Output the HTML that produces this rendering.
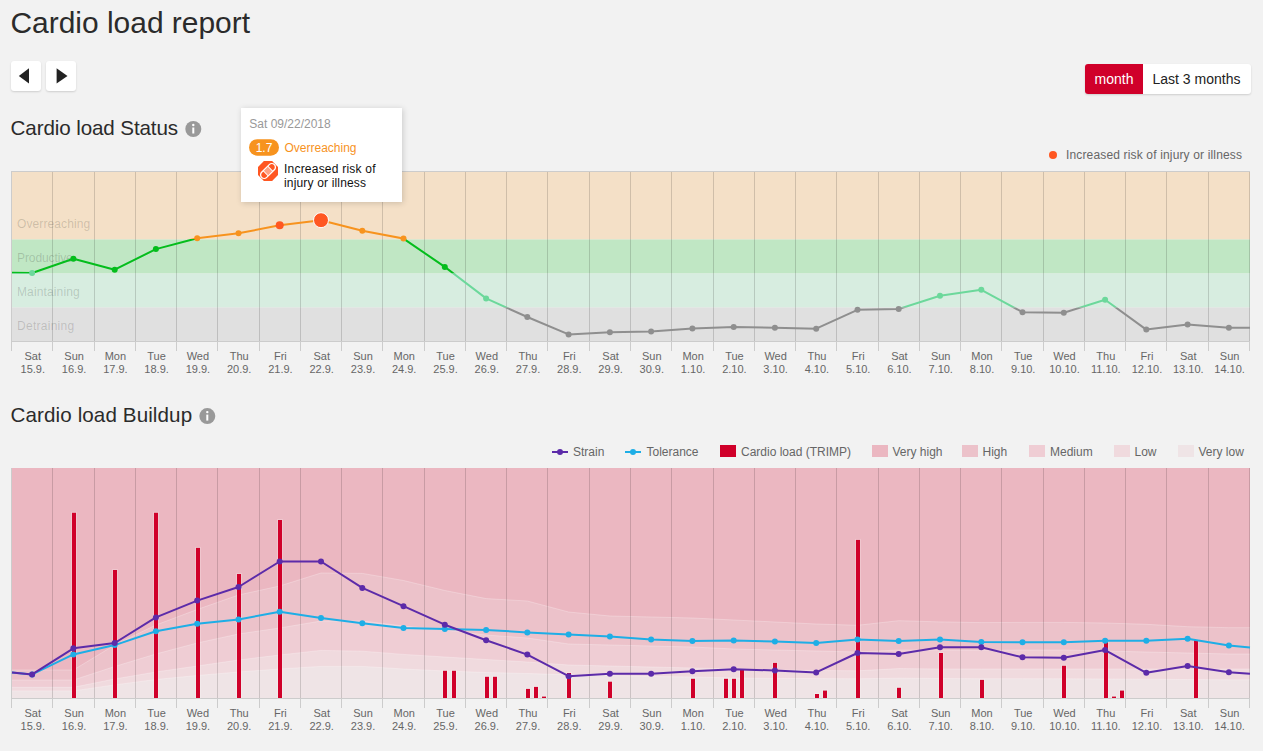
<!DOCTYPE html>
<html><head><meta charset="utf-8"><title>Cardio load report</title>
<style>
html,body{margin:0;padding:0;background:#f2f2f2;width:1263px;height:751px;overflow:hidden;font-family:"Liberation Sans", sans-serif;}
.btn{position:absolute;background:#fff;border-radius:3px;box-shadow:0 1px 2px rgba(0,0,0,0.15);}
.tt{position:absolute;left:241px;top:108px;width:161px;height:94px;background:#fff;box-shadow:1px 1px 6px rgba(0,0,0,0.17);}
</style></head><body>
<svg width="1263" height="751" viewBox="0 0 1263 751" style="position:absolute;left:0;top:0" font-family='"Liberation Sans", sans-serif'><defs><clipPath id="z1"><rect x="0" y="0" width="1263" height="238.9"/></clipPath><clipPath id="z2"><rect x="0" y="238.9" width="1263" height="34.6"/></clipPath><clipPath id="z3"><rect x="0" y="273.5" width="1263" height="34.0"/></clipPath><clipPath id="z4"><rect x="0" y="307.5" width="1263" height="92.5"/></clipPath></defs><rect x="11.0" y="171" width="1239.0" height="68.5" fill="#f4e0c7"/><rect x="11.0" y="239.5" width="1239.0" height="34.0" fill="#c0e7c4"/><rect x="11.0" y="273.5" width="1239.0" height="34.0" fill="#d7ede0"/><rect x="11.0" y="307.5" width="1239.0" height="33.5" fill="#e0e0e0"/><text x="17" y="227.6" font-size="12" fill="#000" fill-opacity="0.17" textLength="73.2" lengthAdjust="spacing">Overreaching</text><text x="17" y="261.6" font-size="12" fill="#000" fill-opacity="0.17" textLength="55.8" lengthAdjust="spacing">Productive</text><text x="17" y="295.6" font-size="12" fill="#000" fill-opacity="0.17" textLength="62.7" lengthAdjust="spacing">Maintaining</text><text x="17" y="329.6" font-size="12" fill="#000" fill-opacity="0.17" textLength="57.2" lengthAdjust="spacing">Detraining</text><line x1="52.5" y1="171" x2="52.5" y2="341" stroke="#000" stroke-opacity="0.15" stroke-width="1"/><line x1="94.5" y1="171" x2="94.5" y2="341" stroke="#000" stroke-opacity="0.15" stroke-width="1"/><line x1="135.5" y1="171" x2="135.5" y2="341" stroke="#000" stroke-opacity="0.15" stroke-width="1"/><line x1="176.5" y1="171" x2="176.5" y2="341" stroke="#000" stroke-opacity="0.15" stroke-width="1"/><line x1="217.5" y1="171" x2="217.5" y2="341" stroke="#000" stroke-opacity="0.15" stroke-width="1"/><line x1="259.5" y1="171" x2="259.5" y2="341" stroke="#000" stroke-opacity="0.15" stroke-width="1"/><line x1="300.5" y1="171" x2="300.5" y2="341" stroke="#000" stroke-opacity="0.15" stroke-width="1"/><line x1="341.5" y1="171" x2="341.5" y2="341" stroke="#000" stroke-opacity="0.15" stroke-width="1"/><line x1="382.5" y1="171" x2="382.5" y2="341" stroke="#000" stroke-opacity="0.15" stroke-width="1"/><line x1="424.5" y1="171" x2="424.5" y2="341" stroke="#000" stroke-opacity="0.15" stroke-width="1"/><line x1="465.5" y1="171" x2="465.5" y2="341" stroke="#000" stroke-opacity="0.15" stroke-width="1"/><line x1="506.5" y1="171" x2="506.5" y2="341" stroke="#000" stroke-opacity="0.15" stroke-width="1"/><line x1="547.5" y1="171" x2="547.5" y2="341" stroke="#000" stroke-opacity="0.15" stroke-width="1"/><line x1="589.5" y1="171" x2="589.5" y2="341" stroke="#000" stroke-opacity="0.15" stroke-width="1"/><line x1="630.5" y1="171" x2="630.5" y2="341" stroke="#000" stroke-opacity="0.15" stroke-width="1"/><line x1="671.5" y1="171" x2="671.5" y2="341" stroke="#000" stroke-opacity="0.15" stroke-width="1"/><line x1="713.5" y1="171" x2="713.5" y2="341" stroke="#000" stroke-opacity="0.15" stroke-width="1"/><line x1="754.5" y1="171" x2="754.5" y2="341" stroke="#000" stroke-opacity="0.15" stroke-width="1"/><line x1="795.5" y1="171" x2="795.5" y2="341" stroke="#000" stroke-opacity="0.15" stroke-width="1"/><line x1="836.5" y1="171" x2="836.5" y2="341" stroke="#000" stroke-opacity="0.15" stroke-width="1"/><line x1="878.5" y1="171" x2="878.5" y2="341" stroke="#000" stroke-opacity="0.15" stroke-width="1"/><line x1="919.5" y1="171" x2="919.5" y2="341" stroke="#000" stroke-opacity="0.15" stroke-width="1"/><line x1="960.5" y1="171" x2="960.5" y2="341" stroke="#000" stroke-opacity="0.15" stroke-width="1"/><line x1="1001.5" y1="171" x2="1001.5" y2="341" stroke="#000" stroke-opacity="0.15" stroke-width="1"/><line x1="1043.5" y1="171" x2="1043.5" y2="341" stroke="#000" stroke-opacity="0.15" stroke-width="1"/><line x1="1084.5" y1="171" x2="1084.5" y2="341" stroke="#000" stroke-opacity="0.15" stroke-width="1"/><line x1="1125.5" y1="171" x2="1125.5" y2="341" stroke="#000" stroke-opacity="0.15" stroke-width="1"/><line x1="1166.5" y1="171" x2="1166.5" y2="341" stroke="#000" stroke-opacity="0.15" stroke-width="1"/><line x1="1208.5" y1="171" x2="1208.5" y2="341" stroke="#000" stroke-opacity="0.15" stroke-width="1"/><line x1="1249.5" y1="171" x2="1249.5" y2="341" stroke="#000" stroke-opacity="0.15" stroke-width="1"/><line x1="11.0" y1="171.5" x2="1250.0" y2="171.5" stroke="#ccc" stroke-width="1"/><line x1="11.5" y1="171" x2="11.5" y2="341" stroke="#ccc" stroke-width="1"/><line x1="11.0" y1="341.5" x2="1250.0" y2="341.5" stroke="#ccc" stroke-width="1"/><line x1="11.5" y1="341" x2="11.5" y2="351" stroke="#ccc" stroke-width="1"/><line x1="52.5" y1="341" x2="52.5" y2="351" stroke="#ccc" stroke-width="1"/><line x1="94.5" y1="341" x2="94.5" y2="351" stroke="#ccc" stroke-width="1"/><line x1="135.5" y1="341" x2="135.5" y2="351" stroke="#ccc" stroke-width="1"/><line x1="176.5" y1="341" x2="176.5" y2="351" stroke="#ccc" stroke-width="1"/><line x1="217.5" y1="341" x2="217.5" y2="351" stroke="#ccc" stroke-width="1"/><line x1="259.5" y1="341" x2="259.5" y2="351" stroke="#ccc" stroke-width="1"/><line x1="300.5" y1="341" x2="300.5" y2="351" stroke="#ccc" stroke-width="1"/><line x1="341.5" y1="341" x2="341.5" y2="351" stroke="#ccc" stroke-width="1"/><line x1="382.5" y1="341" x2="382.5" y2="351" stroke="#ccc" stroke-width="1"/><line x1="424.5" y1="341" x2="424.5" y2="351" stroke="#ccc" stroke-width="1"/><line x1="465.5" y1="341" x2="465.5" y2="351" stroke="#ccc" stroke-width="1"/><line x1="506.5" y1="341" x2="506.5" y2="351" stroke="#ccc" stroke-width="1"/><line x1="547.5" y1="341" x2="547.5" y2="351" stroke="#ccc" stroke-width="1"/><line x1="589.5" y1="341" x2="589.5" y2="351" stroke="#ccc" stroke-width="1"/><line x1="630.5" y1="341" x2="630.5" y2="351" stroke="#ccc" stroke-width="1"/><line x1="671.5" y1="341" x2="671.5" y2="351" stroke="#ccc" stroke-width="1"/><line x1="713.5" y1="341" x2="713.5" y2="351" stroke="#ccc" stroke-width="1"/><line x1="754.5" y1="341" x2="754.5" y2="351" stroke="#ccc" stroke-width="1"/><line x1="795.5" y1="341" x2="795.5" y2="351" stroke="#ccc" stroke-width="1"/><line x1="836.5" y1="341" x2="836.5" y2="351" stroke="#ccc" stroke-width="1"/><line x1="878.5" y1="341" x2="878.5" y2="351" stroke="#ccc" stroke-width="1"/><line x1="919.5" y1="341" x2="919.5" y2="351" stroke="#ccc" stroke-width="1"/><line x1="960.5" y1="341" x2="960.5" y2="351" stroke="#ccc" stroke-width="1"/><line x1="1001.5" y1="341" x2="1001.5" y2="351" stroke="#ccc" stroke-width="1"/><line x1="1043.5" y1="341" x2="1043.5" y2="351" stroke="#ccc" stroke-width="1"/><line x1="1084.5" y1="341" x2="1084.5" y2="351" stroke="#ccc" stroke-width="1"/><line x1="1125.5" y1="341" x2="1125.5" y2="351" stroke="#ccc" stroke-width="1"/><line x1="1166.5" y1="341" x2="1166.5" y2="351" stroke="#ccc" stroke-width="1"/><line x1="1208.5" y1="341" x2="1208.5" y2="351" stroke="#ccc" stroke-width="1"/><line x1="1249.5" y1="341" x2="1249.5" y2="351" stroke="#ccc" stroke-width="1"/><text x="32.8" y="360" font-size="11" fill="#666" text-anchor="middle">Sat</text><text x="32.8" y="373" font-size="11" fill="#666" text-anchor="middle">15.9.</text><text x="74.1" y="360" font-size="11" fill="#666" text-anchor="middle">Sun</text><text x="74.1" y="373" font-size="11" fill="#666" text-anchor="middle">16.9.</text><text x="115.4" y="360" font-size="11" fill="#666" text-anchor="middle">Mon</text><text x="115.4" y="373" font-size="11" fill="#666" text-anchor="middle">17.9.</text><text x="156.6" y="360" font-size="11" fill="#666" text-anchor="middle">Tue</text><text x="156.6" y="373" font-size="11" fill="#666" text-anchor="middle">18.9.</text><text x="197.9" y="360" font-size="11" fill="#666" text-anchor="middle">Wed</text><text x="197.9" y="373" font-size="11" fill="#666" text-anchor="middle">19.9.</text><text x="239.2" y="360" font-size="11" fill="#666" text-anchor="middle">Thu</text><text x="239.2" y="373" font-size="11" fill="#666" text-anchor="middle">20.9.</text><text x="280.4" y="360" font-size="11" fill="#666" text-anchor="middle">Fri</text><text x="280.4" y="373" font-size="11" fill="#666" text-anchor="middle">21.9.</text><text x="321.7" y="360" font-size="11" fill="#666" text-anchor="middle">Sat</text><text x="321.7" y="373" font-size="11" fill="#666" text-anchor="middle">22.9.</text><text x="363.0" y="360" font-size="11" fill="#666" text-anchor="middle">Sun</text><text x="363.0" y="373" font-size="11" fill="#666" text-anchor="middle">23.9.</text><text x="404.2" y="360" font-size="11" fill="#666" text-anchor="middle">Mon</text><text x="404.2" y="373" font-size="11" fill="#666" text-anchor="middle">24.9.</text><text x="445.5" y="360" font-size="11" fill="#666" text-anchor="middle">Tue</text><text x="445.5" y="373" font-size="11" fill="#666" text-anchor="middle">25.9.</text><text x="486.8" y="360" font-size="11" fill="#666" text-anchor="middle">Wed</text><text x="486.8" y="373" font-size="11" fill="#666" text-anchor="middle">26.9.</text><text x="528.0" y="360" font-size="11" fill="#666" text-anchor="middle">Thu</text><text x="528.0" y="373" font-size="11" fill="#666" text-anchor="middle">27.9.</text><text x="569.3" y="360" font-size="11" fill="#666" text-anchor="middle">Fri</text><text x="569.3" y="373" font-size="11" fill="#666" text-anchor="middle">28.9.</text><text x="610.6" y="360" font-size="11" fill="#666" text-anchor="middle">Sat</text><text x="610.6" y="373" font-size="11" fill="#666" text-anchor="middle">29.9.</text><text x="651.8" y="360" font-size="11" fill="#666" text-anchor="middle">Sun</text><text x="651.8" y="373" font-size="11" fill="#666" text-anchor="middle">30.9.</text><text x="693.1" y="360" font-size="11" fill="#666" text-anchor="middle">Mon</text><text x="693.1" y="373" font-size="11" fill="#666" text-anchor="middle">1.10.</text><text x="734.4" y="360" font-size="11" fill="#666" text-anchor="middle">Tue</text><text x="734.4" y="373" font-size="11" fill="#666" text-anchor="middle">2.10.</text><text x="775.6" y="360" font-size="11" fill="#666" text-anchor="middle">Wed</text><text x="775.6" y="373" font-size="11" fill="#666" text-anchor="middle">3.10.</text><text x="816.9" y="360" font-size="11" fill="#666" text-anchor="middle">Thu</text><text x="816.9" y="373" font-size="11" fill="#666" text-anchor="middle">4.10.</text><text x="858.2" y="360" font-size="11" fill="#666" text-anchor="middle">Fri</text><text x="858.2" y="373" font-size="11" fill="#666" text-anchor="middle">5.10.</text><text x="899.4" y="360" font-size="11" fill="#666" text-anchor="middle">Sat</text><text x="899.4" y="373" font-size="11" fill="#666" text-anchor="middle">6.10.</text><text x="940.7" y="360" font-size="11" fill="#666" text-anchor="middle">Sun</text><text x="940.7" y="373" font-size="11" fill="#666" text-anchor="middle">7.10.</text><text x="982.0" y="360" font-size="11" fill="#666" text-anchor="middle">Mon</text><text x="982.0" y="373" font-size="11" fill="#666" text-anchor="middle">8.10.</text><text x="1023.2" y="360" font-size="11" fill="#666" text-anchor="middle">Tue</text><text x="1023.2" y="373" font-size="11" fill="#666" text-anchor="middle">9.10.</text><text x="1064.5" y="360" font-size="11" fill="#666" text-anchor="middle">Wed</text><text x="1064.5" y="373" font-size="11" fill="#666" text-anchor="middle">10.10.</text><text x="1105.8" y="360" font-size="11" fill="#666" text-anchor="middle">Thu</text><text x="1105.8" y="373" font-size="11" fill="#666" text-anchor="middle">11.10.</text><text x="1147.0" y="360" font-size="11" fill="#666" text-anchor="middle">Fri</text><text x="1147.0" y="373" font-size="11" fill="#666" text-anchor="middle">12.10.</text><text x="1188.3" y="360" font-size="11" fill="#666" text-anchor="middle">Sat</text><text x="1188.3" y="373" font-size="11" fill="#666" text-anchor="middle">13.10.</text><text x="1229.6" y="360" font-size="11" fill="#666" text-anchor="middle">Sun</text><text x="1229.6" y="373" font-size="11" fill="#666" text-anchor="middle">14.10.</text><polyline points="12.0,272.7 32.1,273.0 73.4,258.8 114.7,269.7 155.9,249.1 197.2,238.2 238.5,233.3 279.7,225.3 321.0,220.2 362.3,230.7 403.5,238.6 444.8,266.9 486.1,298.4 527.3,317.0 568.6,334.4 609.9,332.2 651.1,331.5 692.4,328.5 733.7,327.1 774.9,327.7 816.2,328.7 857.5,309.8 898.7,309.0 940.0,295.7 981.3,289.8 1022.5,312.2 1063.8,312.8 1105.1,299.7 1146.3,329.6 1187.6,324.4 1228.9,327.8 1250.0,327.8" fill="none" stroke="#f7931e" stroke-width="2" stroke-linejoin="round" clip-path="url(#z1)"/><polyline points="12.0,272.7 32.1,273.0 73.4,258.8 114.7,269.7 155.9,249.1 197.2,238.2 238.5,233.3 279.7,225.3 321.0,220.2 362.3,230.7 403.5,238.6 444.8,266.9 486.1,298.4 527.3,317.0 568.6,334.4 609.9,332.2 651.1,331.5 692.4,328.5 733.7,327.1 774.9,327.7 816.2,328.7 857.5,309.8 898.7,309.0 940.0,295.7 981.3,289.8 1022.5,312.2 1063.8,312.8 1105.1,299.7 1146.3,329.6 1187.6,324.4 1228.9,327.8 1250.0,327.8" fill="none" stroke="#04bd1c" stroke-width="2" stroke-linejoin="round" clip-path="url(#z2)"/><polyline points="12.0,272.7 32.1,273.0 73.4,258.8 114.7,269.7 155.9,249.1 197.2,238.2 238.5,233.3 279.7,225.3 321.0,220.2 362.3,230.7 403.5,238.6 444.8,266.9 486.1,298.4 527.3,317.0 568.6,334.4 609.9,332.2 651.1,331.5 692.4,328.5 733.7,327.1 774.9,327.7 816.2,328.7 857.5,309.8 898.7,309.0 940.0,295.7 981.3,289.8 1022.5,312.2 1063.8,312.8 1105.1,299.7 1146.3,329.6 1187.6,324.4 1228.9,327.8 1250.0,327.8" fill="none" stroke="#6cd89b" stroke-width="2" stroke-linejoin="round" clip-path="url(#z3)"/><polyline points="12.0,272.7 32.1,273.0 73.4,258.8 114.7,269.7 155.9,249.1 197.2,238.2 238.5,233.3 279.7,225.3 321.0,220.2 362.3,230.7 403.5,238.6 444.8,266.9 486.1,298.4 527.3,317.0 568.6,334.4 609.9,332.2 651.1,331.5 692.4,328.5 733.7,327.1 774.9,327.7 816.2,328.7 857.5,309.8 898.7,309.0 940.0,295.7 981.3,289.8 1022.5,312.2 1063.8,312.8 1105.1,299.7 1146.3,329.6 1187.6,324.4 1228.9,327.8 1250.0,327.8" fill="none" stroke="#8f8f8f" stroke-width="2" stroke-linejoin="round" clip-path="url(#z4)"/><circle cx="32.1" cy="273.0" r="3" fill="#6cd89b"/><circle cx="73.4" cy="258.8" r="3" fill="#04bd1c"/><circle cx="114.7" cy="269.7" r="3" fill="#04bd1c"/><circle cx="155.9" cy="249.1" r="3" fill="#04bd1c"/><circle cx="197.2" cy="238.2" r="3" fill="#f7931e"/><circle cx="238.5" cy="233.3" r="3" fill="#f7931e"/><circle cx="279.7" cy="225.3" r="4" fill="#ff5722"/><circle cx="321.0" cy="220.2" r="7.5" fill="#ff5722" stroke="#fff" stroke-width="1"/><circle cx="362.3" cy="230.7" r="3" fill="#f7931e"/><circle cx="403.5" cy="238.6" r="3" fill="#f7931e"/><circle cx="444.8" cy="266.9" r="3" fill="#04bd1c"/><circle cx="486.1" cy="298.4" r="3" fill="#6cd89b"/><circle cx="527.3" cy="317" r="3" fill="#8f8f8f"/><circle cx="568.6" cy="334.4" r="3" fill="#8f8f8f"/><circle cx="609.9" cy="332.2" r="3" fill="#8f8f8f"/><circle cx="651.1" cy="331.5" r="3" fill="#8f8f8f"/><circle cx="692.4" cy="328.5" r="3" fill="#8f8f8f"/><circle cx="733.7" cy="327.1" r="3" fill="#8f8f8f"/><circle cx="774.9" cy="327.7" r="3" fill="#8f8f8f"/><circle cx="816.2" cy="328.7" r="3" fill="#8f8f8f"/><circle cx="857.5" cy="309.8" r="3" fill="#8f8f8f"/><circle cx="898.7" cy="309.0" r="3" fill="#8f8f8f"/><circle cx="940.0" cy="295.7" r="3" fill="#6cd89b"/><circle cx="981.3" cy="289.8" r="3" fill="#6cd89b"/><circle cx="1022.5" cy="312.2" r="3" fill="#8f8f8f"/><circle cx="1063.8" cy="312.8" r="3" fill="#8f8f8f"/><circle cx="1105.1" cy="299.7" r="3" fill="#6cd89b"/><circle cx="1146.3" cy="329.6" r="3" fill="#8f8f8f"/><circle cx="1187.6" cy="324.4" r="3" fill="#8f8f8f"/><circle cx="1228.9" cy="327.8" r="3" fill="#8f8f8f"/><rect x="11.0" y="468" width="1239.0" height="230" fill="#ebb7c1"/><polygon points="11.0,670.0 32.1,670.0 73.4,670.0 114.7,645.0 155.9,625.0 197.2,609.5 238.5,595.0 279.7,586.0 321.0,573.0 362.3,573.4 403.5,580.5 444.8,590.5 486.1,598.6 527.3,601.0 568.6,612.0 609.9,616.0 651.1,617.0 692.4,618.0 733.7,620.0 774.9,622.0 816.2,624.0 857.5,625.3 898.7,620.7 940.0,621.9 981.3,622.6 1022.5,622.4 1063.8,622.4 1105.1,623.0 1146.3,624.3 1187.6,626.7 1228.9,627.7 1250.0,627.7 1250.0,698.0 11.0,698.0" fill="#ecc2ca"/><polygon points="11.0,680.0 32.1,680.0 73.4,680.0 114.7,666.5 155.9,654.0 197.2,643.0 238.5,634.0 279.7,628.0 321.0,621.0 362.3,621.0 403.5,626.0 444.8,630.0 486.1,635.0 527.3,638.0 568.6,644.0 609.9,645.0 651.1,646.0 692.4,647.0 733.7,649.0 774.9,650.0 816.2,651.0 857.5,652.0 898.7,650.0 940.0,650.0 981.3,650.5 1022.5,650.0 1063.8,650.0 1105.1,651.0 1146.3,652.0 1187.6,653.0 1228.9,654.0 1250.0,654.0 1250.0,698.0 11.0,698.0" fill="#efcdd4"/><polygon points="11.0,687.3 32.1,687.3 73.4,687.3 114.7,679.0 155.9,672.0 197.2,666.0 238.5,660.0 279.7,655.0 321.0,650.4 362.3,651.2 403.5,654.4 444.8,657.0 486.1,659.5 527.3,662.0 568.6,665.0 609.9,666.0 651.1,667.0 692.4,668.0 733.7,669.0 774.9,670.0 816.2,670.5 857.5,670.8 898.7,668.6 940.0,669.0 981.3,669.0 1022.5,669.0 1063.8,669.0 1105.1,669.0 1146.3,669.0 1187.6,669.0 1228.9,669.0 1250.0,669.0 1250.0,698.0 11.0,698.0" fill="#f0dade"/><polygon points="11.0,690.9 32.1,690.9 73.4,690.9 114.7,684.9 155.9,679.5 197.2,675.5 238.5,672.0 279.7,669.0 321.0,666.4 362.3,666.4 403.5,669.0 444.8,671.0 486.1,672.5 527.3,673.5 568.6,674.8 609.9,675.5 651.1,676.5 692.4,677.0 733.7,678.0 774.9,678.4 816.2,678.6 857.5,678.8 898.7,678.2 940.0,678.5 981.3,678.7 1022.5,678.7 1063.8,678.8 1105.1,679.0 1146.3,679.2 1187.6,679.5 1228.9,679.8 1250.0,679.8 1250.0,698.0 11.0,698.0" fill="#efe4e6"/><polyline points="11.0,670.0 32.1,670.0 73.4,670.0 114.7,645.0 155.9,625.0 197.2,609.5 238.5,595.0 279.7,586.0 321.0,573.0 362.3,573.4 403.5,580.5 444.8,590.5 486.1,598.6 527.3,601.0 568.6,612.0 609.9,616.0 651.1,617.0 692.4,618.0 733.7,620.0 774.9,622.0 816.2,624.0 857.5,625.3 898.7,620.7 940.0,621.9 981.3,622.6 1022.5,622.4 1063.8,622.4 1105.1,623.0 1146.3,624.3 1187.6,626.7 1228.9,627.7 1250.0,627.7" fill="none" stroke="#fff" stroke-opacity="0.25" stroke-width="1"/><polyline points="11.0,680.0 32.1,680.0 73.4,680.0 114.7,666.5 155.9,654.0 197.2,643.0 238.5,634.0 279.7,628.0 321.0,621.0 362.3,621.0 403.5,626.0 444.8,630.0 486.1,635.0 527.3,638.0 568.6,644.0 609.9,645.0 651.1,646.0 692.4,647.0 733.7,649.0 774.9,650.0 816.2,651.0 857.5,652.0 898.7,650.0 940.0,650.0 981.3,650.5 1022.5,650.0 1063.8,650.0 1105.1,651.0 1146.3,652.0 1187.6,653.0 1228.9,654.0 1250.0,654.0" fill="none" stroke="#fff" stroke-opacity="0.25" stroke-width="1"/><polyline points="11.0,687.3 32.1,687.3 73.4,687.3 114.7,679.0 155.9,672.0 197.2,666.0 238.5,660.0 279.7,655.0 321.0,650.4 362.3,651.2 403.5,654.4 444.8,657.0 486.1,659.5 527.3,662.0 568.6,665.0 609.9,666.0 651.1,667.0 692.4,668.0 733.7,669.0 774.9,670.0 816.2,670.5 857.5,670.8 898.7,668.6 940.0,669.0 981.3,669.0 1022.5,669.0 1063.8,669.0 1105.1,669.0 1146.3,669.0 1187.6,669.0 1228.9,669.0 1250.0,669.0" fill="none" stroke="#fff" stroke-opacity="0.25" stroke-width="1"/><polyline points="11.0,690.9 32.1,690.9 73.4,690.9 114.7,684.9 155.9,679.5 197.2,675.5 238.5,672.0 279.7,669.0 321.0,666.4 362.3,666.4 403.5,669.0 444.8,671.0 486.1,672.5 527.3,673.5 568.6,674.8 609.9,675.5 651.1,676.5 692.4,677.0 733.7,678.0 774.9,678.4 816.2,678.6 857.5,678.8 898.7,678.2 940.0,678.5 981.3,678.7 1022.5,678.7 1063.8,678.8 1105.1,679.0 1146.3,679.2 1187.6,679.5 1228.9,679.8 1250.0,679.8" fill="none" stroke="#fff" stroke-opacity="0.25" stroke-width="1"/><line x1="52.5" y1="468" x2="52.5" y2="698" stroke="#000" stroke-opacity="0.15" stroke-width="1"/><line x1="94.5" y1="468" x2="94.5" y2="698" stroke="#000" stroke-opacity="0.15" stroke-width="1"/><line x1="135.5" y1="468" x2="135.5" y2="698" stroke="#000" stroke-opacity="0.15" stroke-width="1"/><line x1="176.5" y1="468" x2="176.5" y2="698" stroke="#000" stroke-opacity="0.15" stroke-width="1"/><line x1="217.5" y1="468" x2="217.5" y2="698" stroke="#000" stroke-opacity="0.15" stroke-width="1"/><line x1="259.5" y1="468" x2="259.5" y2="698" stroke="#000" stroke-opacity="0.15" stroke-width="1"/><line x1="300.5" y1="468" x2="300.5" y2="698" stroke="#000" stroke-opacity="0.15" stroke-width="1"/><line x1="341.5" y1="468" x2="341.5" y2="698" stroke="#000" stroke-opacity="0.15" stroke-width="1"/><line x1="382.5" y1="468" x2="382.5" y2="698" stroke="#000" stroke-opacity="0.15" stroke-width="1"/><line x1="424.5" y1="468" x2="424.5" y2="698" stroke="#000" stroke-opacity="0.15" stroke-width="1"/><line x1="465.5" y1="468" x2="465.5" y2="698" stroke="#000" stroke-opacity="0.15" stroke-width="1"/><line x1="506.5" y1="468" x2="506.5" y2="698" stroke="#000" stroke-opacity="0.15" stroke-width="1"/><line x1="547.5" y1="468" x2="547.5" y2="698" stroke="#000" stroke-opacity="0.15" stroke-width="1"/><line x1="589.5" y1="468" x2="589.5" y2="698" stroke="#000" stroke-opacity="0.15" stroke-width="1"/><line x1="630.5" y1="468" x2="630.5" y2="698" stroke="#000" stroke-opacity="0.15" stroke-width="1"/><line x1="671.5" y1="468" x2="671.5" y2="698" stroke="#000" stroke-opacity="0.15" stroke-width="1"/><line x1="713.5" y1="468" x2="713.5" y2="698" stroke="#000" stroke-opacity="0.15" stroke-width="1"/><line x1="754.5" y1="468" x2="754.5" y2="698" stroke="#000" stroke-opacity="0.15" stroke-width="1"/><line x1="795.5" y1="468" x2="795.5" y2="698" stroke="#000" stroke-opacity="0.15" stroke-width="1"/><line x1="836.5" y1="468" x2="836.5" y2="698" stroke="#000" stroke-opacity="0.15" stroke-width="1"/><line x1="878.5" y1="468" x2="878.5" y2="698" stroke="#000" stroke-opacity="0.15" stroke-width="1"/><line x1="919.5" y1="468" x2="919.5" y2="698" stroke="#000" stroke-opacity="0.15" stroke-width="1"/><line x1="960.5" y1="468" x2="960.5" y2="698" stroke="#000" stroke-opacity="0.15" stroke-width="1"/><line x1="1001.5" y1="468" x2="1001.5" y2="698" stroke="#000" stroke-opacity="0.15" stroke-width="1"/><line x1="1043.5" y1="468" x2="1043.5" y2="698" stroke="#000" stroke-opacity="0.15" stroke-width="1"/><line x1="1084.5" y1="468" x2="1084.5" y2="698" stroke="#000" stroke-opacity="0.15" stroke-width="1"/><line x1="1125.5" y1="468" x2="1125.5" y2="698" stroke="#000" stroke-opacity="0.15" stroke-width="1"/><line x1="1166.5" y1="468" x2="1166.5" y2="698" stroke="#000" stroke-opacity="0.15" stroke-width="1"/><line x1="1208.5" y1="468" x2="1208.5" y2="698" stroke="#000" stroke-opacity="0.15" stroke-width="1"/><line x1="1249.5" y1="468" x2="1249.5" y2="698" stroke="#000" stroke-opacity="0.15" stroke-width="1"/><line x1="11.5" y1="468" x2="11.5" y2="698" stroke="#ccc" stroke-width="1"/><line x1="11.0" y1="698.5" x2="1250.0" y2="698.5" stroke="#ccc" stroke-width="1"/><line x1="11.5" y1="698" x2="11.5" y2="708" stroke="#ccc" stroke-width="1"/><line x1="52.5" y1="698" x2="52.5" y2="708" stroke="#ccc" stroke-width="1"/><line x1="94.5" y1="698" x2="94.5" y2="708" stroke="#ccc" stroke-width="1"/><line x1="135.5" y1="698" x2="135.5" y2="708" stroke="#ccc" stroke-width="1"/><line x1="176.5" y1="698" x2="176.5" y2="708" stroke="#ccc" stroke-width="1"/><line x1="217.5" y1="698" x2="217.5" y2="708" stroke="#ccc" stroke-width="1"/><line x1="259.5" y1="698" x2="259.5" y2="708" stroke="#ccc" stroke-width="1"/><line x1="300.5" y1="698" x2="300.5" y2="708" stroke="#ccc" stroke-width="1"/><line x1="341.5" y1="698" x2="341.5" y2="708" stroke="#ccc" stroke-width="1"/><line x1="382.5" y1="698" x2="382.5" y2="708" stroke="#ccc" stroke-width="1"/><line x1="424.5" y1="698" x2="424.5" y2="708" stroke="#ccc" stroke-width="1"/><line x1="465.5" y1="698" x2="465.5" y2="708" stroke="#ccc" stroke-width="1"/><line x1="506.5" y1="698" x2="506.5" y2="708" stroke="#ccc" stroke-width="1"/><line x1="547.5" y1="698" x2="547.5" y2="708" stroke="#ccc" stroke-width="1"/><line x1="589.5" y1="698" x2="589.5" y2="708" stroke="#ccc" stroke-width="1"/><line x1="630.5" y1="698" x2="630.5" y2="708" stroke="#ccc" stroke-width="1"/><line x1="671.5" y1="698" x2="671.5" y2="708" stroke="#ccc" stroke-width="1"/><line x1="713.5" y1="698" x2="713.5" y2="708" stroke="#ccc" stroke-width="1"/><line x1="754.5" y1="698" x2="754.5" y2="708" stroke="#ccc" stroke-width="1"/><line x1="795.5" y1="698" x2="795.5" y2="708" stroke="#ccc" stroke-width="1"/><line x1="836.5" y1="698" x2="836.5" y2="708" stroke="#ccc" stroke-width="1"/><line x1="878.5" y1="698" x2="878.5" y2="708" stroke="#ccc" stroke-width="1"/><line x1="919.5" y1="698" x2="919.5" y2="708" stroke="#ccc" stroke-width="1"/><line x1="960.5" y1="698" x2="960.5" y2="708" stroke="#ccc" stroke-width="1"/><line x1="1001.5" y1="698" x2="1001.5" y2="708" stroke="#ccc" stroke-width="1"/><line x1="1043.5" y1="698" x2="1043.5" y2="708" stroke="#ccc" stroke-width="1"/><line x1="1084.5" y1="698" x2="1084.5" y2="708" stroke="#ccc" stroke-width="1"/><line x1="1125.5" y1="698" x2="1125.5" y2="708" stroke="#ccc" stroke-width="1"/><line x1="1166.5" y1="698" x2="1166.5" y2="708" stroke="#ccc" stroke-width="1"/><line x1="1208.5" y1="698" x2="1208.5" y2="708" stroke="#ccc" stroke-width="1"/><line x1="1249.5" y1="698" x2="1249.5" y2="708" stroke="#ccc" stroke-width="1"/><text x="32.8" y="717" font-size="11" fill="#666" text-anchor="middle">Sat</text><text x="32.8" y="730" font-size="11" fill="#666" text-anchor="middle">15.9.</text><text x="74.1" y="717" font-size="11" fill="#666" text-anchor="middle">Sun</text><text x="74.1" y="730" font-size="11" fill="#666" text-anchor="middle">16.9.</text><text x="115.4" y="717" font-size="11" fill="#666" text-anchor="middle">Mon</text><text x="115.4" y="730" font-size="11" fill="#666" text-anchor="middle">17.9.</text><text x="156.6" y="717" font-size="11" fill="#666" text-anchor="middle">Tue</text><text x="156.6" y="730" font-size="11" fill="#666" text-anchor="middle">18.9.</text><text x="197.9" y="717" font-size="11" fill="#666" text-anchor="middle">Wed</text><text x="197.9" y="730" font-size="11" fill="#666" text-anchor="middle">19.9.</text><text x="239.2" y="717" font-size="11" fill="#666" text-anchor="middle">Thu</text><text x="239.2" y="730" font-size="11" fill="#666" text-anchor="middle">20.9.</text><text x="280.4" y="717" font-size="11" fill="#666" text-anchor="middle">Fri</text><text x="280.4" y="730" font-size="11" fill="#666" text-anchor="middle">21.9.</text><text x="321.7" y="717" font-size="11" fill="#666" text-anchor="middle">Sat</text><text x="321.7" y="730" font-size="11" fill="#666" text-anchor="middle">22.9.</text><text x="363.0" y="717" font-size="11" fill="#666" text-anchor="middle">Sun</text><text x="363.0" y="730" font-size="11" fill="#666" text-anchor="middle">23.9.</text><text x="404.2" y="717" font-size="11" fill="#666" text-anchor="middle">Mon</text><text x="404.2" y="730" font-size="11" fill="#666" text-anchor="middle">24.9.</text><text x="445.5" y="717" font-size="11" fill="#666" text-anchor="middle">Tue</text><text x="445.5" y="730" font-size="11" fill="#666" text-anchor="middle">25.9.</text><text x="486.8" y="717" font-size="11" fill="#666" text-anchor="middle">Wed</text><text x="486.8" y="730" font-size="11" fill="#666" text-anchor="middle">26.9.</text><text x="528.0" y="717" font-size="11" fill="#666" text-anchor="middle">Thu</text><text x="528.0" y="730" font-size="11" fill="#666" text-anchor="middle">27.9.</text><text x="569.3" y="717" font-size="11" fill="#666" text-anchor="middle">Fri</text><text x="569.3" y="730" font-size="11" fill="#666" text-anchor="middle">28.9.</text><text x="610.6" y="717" font-size="11" fill="#666" text-anchor="middle">Sat</text><text x="610.6" y="730" font-size="11" fill="#666" text-anchor="middle">29.9.</text><text x="651.8" y="717" font-size="11" fill="#666" text-anchor="middle">Sun</text><text x="651.8" y="730" font-size="11" fill="#666" text-anchor="middle">30.9.</text><text x="693.1" y="717" font-size="11" fill="#666" text-anchor="middle">Mon</text><text x="693.1" y="730" font-size="11" fill="#666" text-anchor="middle">1.10.</text><text x="734.4" y="717" font-size="11" fill="#666" text-anchor="middle">Tue</text><text x="734.4" y="730" font-size="11" fill="#666" text-anchor="middle">2.10.</text><text x="775.6" y="717" font-size="11" fill="#666" text-anchor="middle">Wed</text><text x="775.6" y="730" font-size="11" fill="#666" text-anchor="middle">3.10.</text><text x="816.9" y="717" font-size="11" fill="#666" text-anchor="middle">Thu</text><text x="816.9" y="730" font-size="11" fill="#666" text-anchor="middle">4.10.</text><text x="858.2" y="717" font-size="11" fill="#666" text-anchor="middle">Fri</text><text x="858.2" y="730" font-size="11" fill="#666" text-anchor="middle">5.10.</text><text x="899.4" y="717" font-size="11" fill="#666" text-anchor="middle">Sat</text><text x="899.4" y="730" font-size="11" fill="#666" text-anchor="middle">6.10.</text><text x="940.7" y="717" font-size="11" fill="#666" text-anchor="middle">Sun</text><text x="940.7" y="730" font-size="11" fill="#666" text-anchor="middle">7.10.</text><text x="982.0" y="717" font-size="11" fill="#666" text-anchor="middle">Mon</text><text x="982.0" y="730" font-size="11" fill="#666" text-anchor="middle">8.10.</text><text x="1023.2" y="717" font-size="11" fill="#666" text-anchor="middle">Tue</text><text x="1023.2" y="730" font-size="11" fill="#666" text-anchor="middle">9.10.</text><text x="1064.5" y="717" font-size="11" fill="#666" text-anchor="middle">Wed</text><text x="1064.5" y="730" font-size="11" fill="#666" text-anchor="middle">10.10.</text><text x="1105.8" y="717" font-size="11" fill="#666" text-anchor="middle">Thu</text><text x="1105.8" y="730" font-size="11" fill="#666" text-anchor="middle">11.10.</text><text x="1147.0" y="717" font-size="11" fill="#666" text-anchor="middle">Fri</text><text x="1147.0" y="730" font-size="11" fill="#666" text-anchor="middle">12.10.</text><text x="1188.3" y="717" font-size="11" fill="#666" text-anchor="middle">Sat</text><text x="1188.3" y="730" font-size="11" fill="#666" text-anchor="middle">13.10.</text><text x="1229.6" y="717" font-size="11" fill="#666" text-anchor="middle">Sun</text><text x="1229.6" y="730" font-size="11" fill="#666" text-anchor="middle">14.10.</text><rect x="71.5" y="512.3" width="5" height="185.7" fill="none" stroke="#fff" stroke-opacity="0.22" stroke-width="1"/><rect x="72" y="512.8" width="4" height="185.2" fill="#d0002a"/><rect x="112.5" y="569.5" width="5" height="128.5" fill="none" stroke="#fff" stroke-opacity="0.22" stroke-width="1"/><rect x="113" y="570.0" width="4" height="128.0" fill="#d0002a"/><rect x="153.5" y="512.3" width="5" height="185.7" fill="none" stroke="#fff" stroke-opacity="0.22" stroke-width="1"/><rect x="154" y="512.8" width="4" height="185.2" fill="#d0002a"/><rect x="195.5" y="547.4" width="5" height="150.6" fill="none" stroke="#fff" stroke-opacity="0.22" stroke-width="1"/><rect x="196" y="547.9" width="4" height="150.1" fill="#d0002a"/><rect x="236.5" y="573.5" width="5" height="124.5" fill="none" stroke="#fff" stroke-opacity="0.22" stroke-width="1"/><rect x="237" y="574.0" width="4" height="124.0" fill="#d0002a"/><rect x="277.5" y="519.5" width="5" height="178.5" fill="none" stroke="#fff" stroke-opacity="0.22" stroke-width="1"/><rect x="278" y="520.0" width="4" height="178.0" fill="#d0002a"/><rect x="442.5" y="670.3" width="5" height="27.7" fill="none" stroke="#fff" stroke-opacity="0.22" stroke-width="1"/><rect x="443" y="670.8" width="4" height="27.2" fill="#d0002a"/><rect x="451.5" y="670.3" width="5" height="27.7" fill="none" stroke="#fff" stroke-opacity="0.22" stroke-width="1"/><rect x="452" y="670.8" width="4" height="27.2" fill="#d0002a"/><rect x="484.5" y="676.3" width="5" height="21.7" fill="none" stroke="#fff" stroke-opacity="0.22" stroke-width="1"/><rect x="485" y="676.8" width="4" height="21.2" fill="#d0002a"/><rect x="492.5" y="676.3" width="5" height="21.7" fill="none" stroke="#fff" stroke-opacity="0.22" stroke-width="1"/><rect x="493" y="676.8" width="4" height="21.2" fill="#d0002a"/><rect x="525.5" y="688.4" width="5" height="9.6" fill="none" stroke="#fff" stroke-opacity="0.22" stroke-width="1"/><rect x="526" y="688.9" width="4" height="9.1" fill="#d0002a"/><rect x="533.5" y="686.4" width="5" height="11.6" fill="none" stroke="#fff" stroke-opacity="0.22" stroke-width="1"/><rect x="534" y="686.9" width="4" height="11.1" fill="#d0002a"/><rect x="541.5" y="696.1" width="5" height="1.9" fill="none" stroke="#fff" stroke-opacity="0.22" stroke-width="1"/><rect x="542" y="696.6" width="4" height="1.4" fill="#d0002a"/><rect x="566.5" y="672.5" width="5" height="25.5" fill="none" stroke="#fff" stroke-opacity="0.22" stroke-width="1"/><rect x="567" y="673.0" width="4" height="25.0" fill="#d0002a"/><rect x="607.5" y="681.2" width="5" height="16.8" fill="none" stroke="#fff" stroke-opacity="0.22" stroke-width="1"/><rect x="608" y="681.7" width="4" height="16.3" fill="#d0002a"/><rect x="690.5" y="678.3" width="5" height="19.7" fill="none" stroke="#fff" stroke-opacity="0.22" stroke-width="1"/><rect x="691" y="678.8" width="4" height="19.2" fill="#d0002a"/><rect x="723.5" y="678.3" width="5" height="19.7" fill="none" stroke="#fff" stroke-opacity="0.22" stroke-width="1"/><rect x="724" y="678.8" width="4" height="19.2" fill="#d0002a"/><rect x="731.5" y="678.3" width="5" height="19.7" fill="none" stroke="#fff" stroke-opacity="0.22" stroke-width="1"/><rect x="732" y="678.8" width="4" height="19.2" fill="#d0002a"/><rect x="739.5" y="669.4" width="5" height="28.6" fill="none" stroke="#fff" stroke-opacity="0.22" stroke-width="1"/><rect x="740" y="669.9" width="4" height="28.1" fill="#d0002a"/><rect x="772.5" y="662.4" width="5" height="35.6" fill="none" stroke="#fff" stroke-opacity="0.22" stroke-width="1"/><rect x="773" y="662.9" width="4" height="35.1" fill="#d0002a"/><rect x="814.5" y="693.5" width="5" height="4.5" fill="none" stroke="#fff" stroke-opacity="0.22" stroke-width="1"/><rect x="815" y="694.0" width="4" height="4.0" fill="#d0002a"/><rect x="822.5" y="690.1" width="5" height="7.9" fill="none" stroke="#fff" stroke-opacity="0.22" stroke-width="1"/><rect x="823" y="690.6" width="4" height="7.4" fill="#d0002a"/><rect x="855.5" y="539.4" width="5" height="158.6" fill="none" stroke="#fff" stroke-opacity="0.22" stroke-width="1"/><rect x="856" y="539.9" width="4" height="158.1" fill="#d0002a"/><rect x="896.5" y="687.3" width="5" height="10.7" fill="none" stroke="#fff" stroke-opacity="0.22" stroke-width="1"/><rect x="897" y="687.8" width="4" height="10.2" fill="#d0002a"/><rect x="938.5" y="652.5" width="5" height="45.5" fill="none" stroke="#fff" stroke-opacity="0.22" stroke-width="1"/><rect x="939" y="653.0" width="4" height="45.0" fill="#d0002a"/><rect x="979.5" y="679.4" width="5" height="18.6" fill="none" stroke="#fff" stroke-opacity="0.22" stroke-width="1"/><rect x="980" y="679.9" width="4" height="18.1" fill="#d0002a"/><rect x="1061.5" y="665.3" width="5" height="32.7" fill="none" stroke="#fff" stroke-opacity="0.22" stroke-width="1"/><rect x="1062" y="665.8" width="4" height="32.2" fill="#d0002a"/><rect x="1103.5" y="641.6" width="5" height="56.4" fill="none" stroke="#fff" stroke-opacity="0.22" stroke-width="1"/><rect x="1104" y="642.1" width="4" height="55.9" fill="#d0002a"/><rect x="1111.5" y="696.1" width="5" height="1.9" fill="none" stroke="#fff" stroke-opacity="0.22" stroke-width="1"/><rect x="1112" y="696.6" width="4" height="1.4" fill="#d0002a"/><rect x="1119.5" y="690.1" width="5" height="7.9" fill="none" stroke="#fff" stroke-opacity="0.22" stroke-width="1"/><rect x="1120" y="690.6" width="4" height="7.4" fill="#d0002a"/><rect x="1193.5" y="639.7" width="5" height="58.3" fill="none" stroke="#fff" stroke-opacity="0.22" stroke-width="1"/><rect x="1194" y="640.2" width="4" height="57.8" fill="#d0002a"/><polyline points="12.0,672.5 32.1,674.4 73.4,654.4 114.7,645.1 155.9,631.3 197.2,623.8 238.5,619.5 279.7,611.8 321.0,617.9 362.3,623.3 403.5,628.1 444.8,629.0 486.1,629.9 527.3,632.4 568.6,634.4 609.9,636.6 651.1,639.4 692.4,641.0 733.7,640.6 774.9,641.4 816.2,643.1 857.5,639.4 898.7,641.0 940.0,639.6 981.3,642.0 1022.5,642.2 1063.8,642.2 1105.1,640.8 1146.3,640.8 1187.6,638.8 1228.9,645.5 1250.0,647.5" fill="none" stroke="#1eaee6" stroke-width="2" stroke-linejoin="round"/><circle cx="32.1" cy="674.4" r="3" fill="#1eaee6"/><circle cx="73.4" cy="654.4" r="3" fill="#1eaee6"/><circle cx="114.7" cy="645.1" r="3" fill="#1eaee6"/><circle cx="155.9" cy="631.3" r="3" fill="#1eaee6"/><circle cx="197.2" cy="623.8" r="3" fill="#1eaee6"/><circle cx="238.5" cy="619.5" r="3" fill="#1eaee6"/><circle cx="279.7" cy="611.8" r="3" fill="#1eaee6"/><circle cx="321.0" cy="617.9" r="3" fill="#1eaee6"/><circle cx="362.3" cy="623.3" r="3" fill="#1eaee6"/><circle cx="403.5" cy="628.1" r="3" fill="#1eaee6"/><circle cx="444.8" cy="629" r="3" fill="#1eaee6"/><circle cx="486.1" cy="629.9" r="3" fill="#1eaee6"/><circle cx="527.3" cy="632.4" r="3" fill="#1eaee6"/><circle cx="568.6" cy="634.4" r="3" fill="#1eaee6"/><circle cx="609.9" cy="636.6" r="3" fill="#1eaee6"/><circle cx="651.1" cy="639.4" r="3" fill="#1eaee6"/><circle cx="692.4" cy="641" r="3" fill="#1eaee6"/><circle cx="733.7" cy="640.6" r="3" fill="#1eaee6"/><circle cx="774.9" cy="641.4" r="3" fill="#1eaee6"/><circle cx="816.2" cy="643.1" r="3" fill="#1eaee6"/><circle cx="857.5" cy="639.4" r="3" fill="#1eaee6"/><circle cx="898.7" cy="641" r="3" fill="#1eaee6"/><circle cx="940.0" cy="639.6" r="3" fill="#1eaee6"/><circle cx="981.3" cy="642" r="3" fill="#1eaee6"/><circle cx="1022.5" cy="642.2" r="3" fill="#1eaee6"/><circle cx="1063.8" cy="642.2" r="3" fill="#1eaee6"/><circle cx="1105.1" cy="640.8" r="3" fill="#1eaee6"/><circle cx="1146.3" cy="640.8" r="3" fill="#1eaee6"/><circle cx="1187.6" cy="638.8" r="3" fill="#1eaee6"/><circle cx="1228.9" cy="645.5" r="3" fill="#1eaee6"/><polyline points="12.0,672.5 32.1,674.4 73.4,648.3 114.7,643.0 155.9,617.4 197.2,600.6 238.5,587.0 279.7,561.5 321.0,561.5 362.3,587.9 403.5,606.2 444.8,624.7 486.1,640.2 527.3,654.6 568.6,676.2 609.9,673.8 651.1,673.8 692.4,671.2 733.7,669.3 774.9,670.5 816.2,672.4 857.5,653.0 898.7,654.0 940.0,647.3 981.3,647.3 1022.5,657.3 1063.8,657.7 1105.1,650.1 1146.3,672.8 1187.6,665.9 1228.9,672.2 1250.0,673.8" fill="none" stroke="#5c2ba9" stroke-width="2" stroke-linejoin="round"/><circle cx="32.1" cy="674.4" r="3" fill="#5c2ba9"/><circle cx="73.4" cy="648.3" r="3" fill="#5c2ba9"/><circle cx="114.7" cy="643" r="3" fill="#5c2ba9"/><circle cx="155.9" cy="617.4" r="3" fill="#5c2ba9"/><circle cx="197.2" cy="600.6" r="3" fill="#5c2ba9"/><circle cx="238.5" cy="587" r="3" fill="#5c2ba9"/><circle cx="279.7" cy="561.5" r="3" fill="#5c2ba9"/><circle cx="321.0" cy="561.5" r="3" fill="#5c2ba9"/><circle cx="362.3" cy="587.9" r="3" fill="#5c2ba9"/><circle cx="403.5" cy="606.2" r="3" fill="#5c2ba9"/><circle cx="444.8" cy="624.7" r="3" fill="#5c2ba9"/><circle cx="486.1" cy="640.2" r="3" fill="#5c2ba9"/><circle cx="527.3" cy="654.6" r="3" fill="#5c2ba9"/><circle cx="568.6" cy="676.2" r="3" fill="#5c2ba9"/><circle cx="609.9" cy="673.8" r="3" fill="#5c2ba9"/><circle cx="651.1" cy="673.8" r="3" fill="#5c2ba9"/><circle cx="692.4" cy="671.2" r="3" fill="#5c2ba9"/><circle cx="733.7" cy="669.3" r="3" fill="#5c2ba9"/><circle cx="774.9" cy="670.5" r="3" fill="#5c2ba9"/><circle cx="816.2" cy="672.4" r="3" fill="#5c2ba9"/><circle cx="857.5" cy="653" r="3" fill="#5c2ba9"/><circle cx="898.7" cy="654" r="3" fill="#5c2ba9"/><circle cx="940.0" cy="647.3" r="3" fill="#5c2ba9"/><circle cx="981.3" cy="647.3" r="3" fill="#5c2ba9"/><circle cx="1022.5" cy="657.3" r="3" fill="#5c2ba9"/><circle cx="1063.8" cy="657.7" r="3" fill="#5c2ba9"/><circle cx="1105.1" cy="650.1" r="3" fill="#5c2ba9"/><circle cx="1146.3" cy="672.8" r="3" fill="#5c2ba9"/><circle cx="1187.6" cy="665.9" r="3" fill="#5c2ba9"/><circle cx="1228.9" cy="672.2" r="3" fill="#5c2ba9"/><text x="10.5" y="33" font-size="29.5" fill="#2b2b2b" textLength="239.5" lengthAdjust="spacingAndGlyphs">Cardio load report</text><text x="10.6" y="134.8" font-size="20.6" fill="#2b2b2b" textLength="167.5" lengthAdjust="spacing">Cardio load Status</text><text x="10.6" y="422.2" font-size="20.6" fill="#2b2b2b" textLength="181.5" lengthAdjust="spacing">Cardio load Buildup</text><circle cx="193.3" cy="129" r="8" fill="#999"/><rect x="192.3" y="127.5" width="2" height="6" fill="#fff"/><circle cx="193.3" cy="125" r="1.2" fill="#fff"/><circle cx="207.3" cy="416.1" r="8" fill="#999"/><rect x="206.3" y="414.6" width="2" height="6" fill="#fff"/><circle cx="207.3" cy="412.1" r="1.2" fill="#fff"/><circle cx="1053" cy="155" r="4" fill="#ff5722"/><text x="1066" y="159" font-size="12" fill="#666" textLength="176" lengthAdjust="spacing">Increased risk of injury or illness</text><line x1="552" y1="452" x2="568" y2="452" stroke="#5c2ba9" stroke-width="2"/><circle cx="560" cy="452" r="3" fill="#5c2ba9"/><text x="573" y="456" font-size="12" fill="#666">Strain</text><line x1="625" y1="452" x2="641" y2="452" stroke="#1eaee6" stroke-width="2"/><circle cx="633" cy="452" r="3" fill="#1eaee6"/><text x="646.5" y="456" font-size="12" fill="#666">Tolerance</text><rect x="720" y="445" width="16" height="12" fill="#d0002a"/><text x="741" y="456" font-size="12" fill="#666">Cardio load (TRIMP)</text><rect x="872" y="445" width="16" height="12" fill="#ebb7c1"/><text x="892.5" y="456" font-size="12" fill="#666">Very high</text><rect x="962" y="445" width="16" height="12" fill="#ecc2ca"/><text x="982.5" y="456" font-size="12" fill="#666">High</text><rect x="1029" y="445" width="16" height="12" fill="#efcdd4"/><text x="1050" y="456" font-size="12" fill="#666">Medium</text><rect x="1114" y="445" width="16" height="12" fill="#f0dade"/><text x="1134.5" y="456" font-size="12" fill="#666">Low</text><rect x="1178" y="445" width="16" height="12" fill="#efe4e6"/><text x="1198.5" y="456" font-size="12" fill="#666">Very low</text></svg>
<div class="btn" style="left:11px;top:61px;width:30px;height:30px"><svg width="30" height="30"><polygon points="18,7.3 18,22.6 7.8,14.95" fill="#222"/></svg></div>
<div class="btn" style="left:46px;top:61px;width:30px;height:30px"><svg width="30" height="30"><polygon points="10.6,7.3 10.6,22.6 21.5,14.95" fill="#222"/></svg></div>
<div class="btn" style="left:1085px;top:64px;width:166px;height:30px;overflow:hidden">
 <div style="position:absolute;left:0;top:0;width:58px;height:30px;background:#d0002a"></div>
 <svg width="166" height="30" style="position:absolute;left:0;top:0" font-family='"Liberation Sans", sans-serif'>
  <text x="29" y="19.8" font-size="14" fill="#fff" text-anchor="middle">month</text>
  <text x="67.5" y="19.8" font-size="14" fill="#222">Last 3 months</text>
 </svg>
</div>
<div class="tt"><svg width="161" height="94" font-family='"Liberation Sans", sans-serif'>
 <text x="8.3" y="19.8" font-size="12" fill="#999">Sat 09/22/2018</text>
 <rect x="8" y="31.2" width="30" height="16.5" rx="8.25" fill="#f7931e"/>
 <text x="23" y="44" font-size="12" fill="#fff" text-anchor="middle">1.7</text>
 <text x="43.5" y="44" font-size="12" fill="#f7931e">Overreaching</text>
 <polygon points="22.9,53 31.1,53 37,58.9 37,67.1 31.1,73 22.9,73 17,67.1 17,58.9" fill="#ff5722"/>
 <g transform="translate(27,63) rotate(-45)">
  <rect x="-9" y="-3.6" width="18" height="7.2" rx="3.6" fill="none" stroke="#fff" stroke-width="1.3"/>
  <line x1="-3.2" y1="-3.6" x2="-3.2" y2="3.6" stroke="#fff" stroke-width="1.1"/>
  <line x1="3.2" y1="-3.6" x2="3.2" y2="3.6" stroke="#fff" stroke-width="1.1"/>
  <rect x="-2.6" y="-3" width="5.2" height="6" fill="#fff" fill-opacity="0.45"/>
 </g>
 <text x="43" y="64.8" font-size="12" fill="#111" textLength="91.5" lengthAdjust="spacing">Increased risk of</text>
 <text x="43" y="79.4" font-size="12" fill="#111" textLength="82" lengthAdjust="spacing">injury or illness</text>
</svg></div>
</body></html>
